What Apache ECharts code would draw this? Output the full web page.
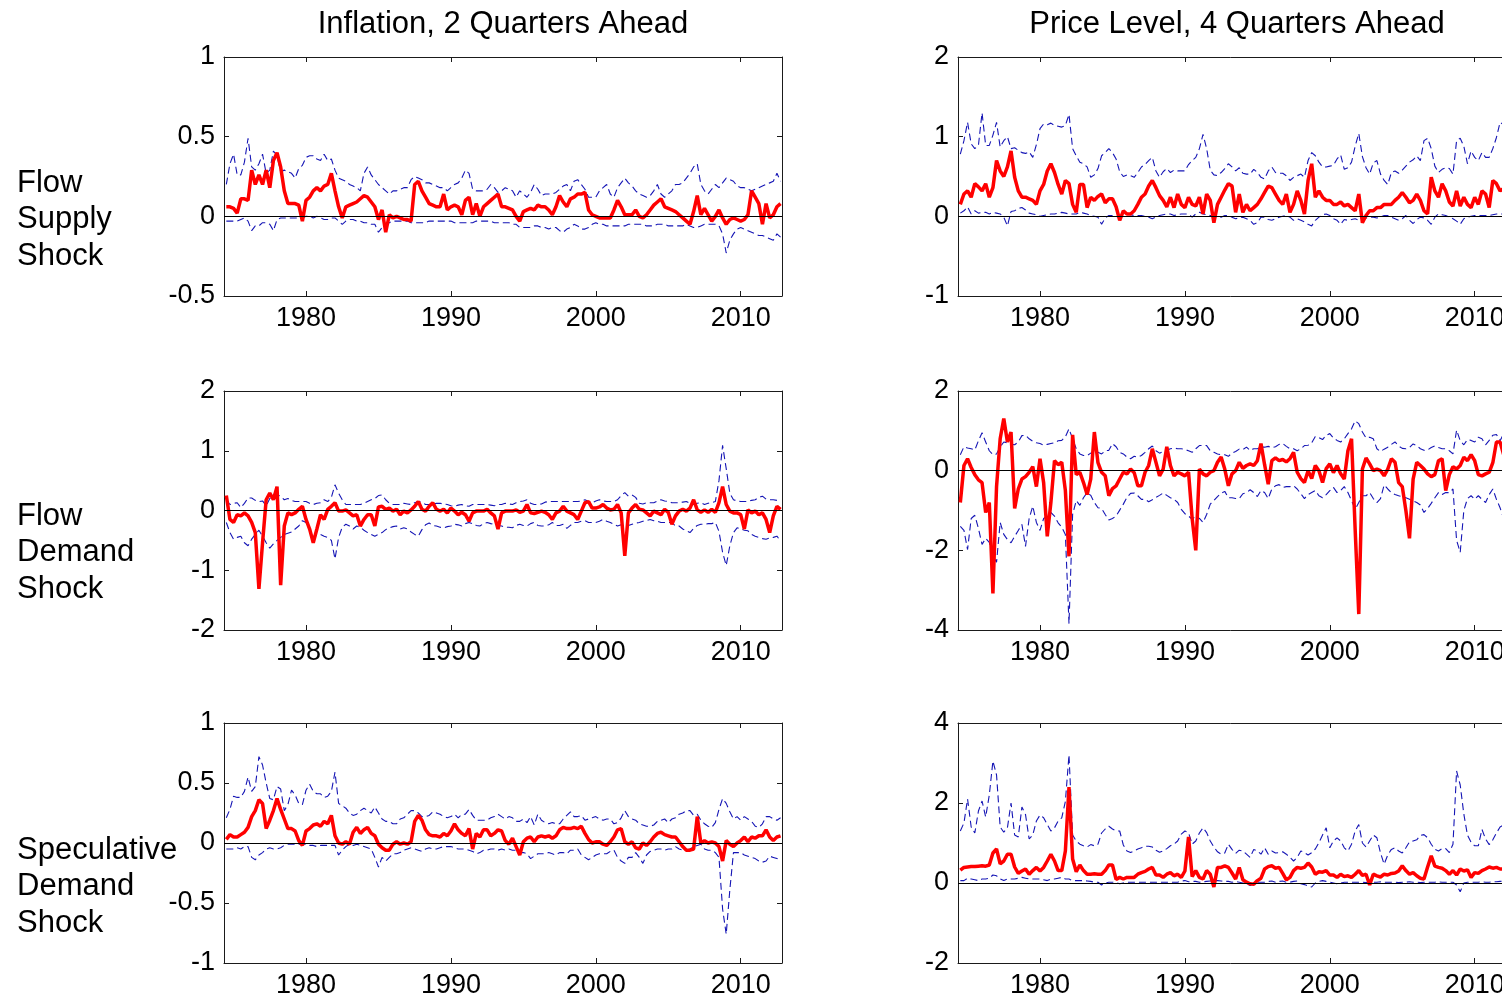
<!DOCTYPE html>
<html>
<head>
<meta charset="utf-8">
<script src="https://cdn.jsdelivr.net/npm/echarts@6/dist/echarts.min.js"></script>
<style>html,body{margin:0;padding:0;background:#fff}#c{width:1502px;height:998px}</style>
</head>
<body>
<div id="c"></div>
<script>
// ---- time index (quarterly) and tick labels ----
const years = Array.from({length: 154}, (_, i) => 1974.5 + 0.25 * i);
const xTicks = [1980, 1990, 2000, 2010];
const colTitles = ['Inflation, 2 Quarters Ahead', 'Price Level, 4 Quarters Ahead'];
const rowLabels = ['Flow\nSupply\nShock', 'Flow\nDemand\nShock', 'Speculative\nDemand\nShock'];

// ---- Inflation, flow supply shock ----
const infSupplyMed = [0.06,0.06,0.05,0.02,0.11,0.11,0.10,0.29,0.20,0.26, 0.20,0.29,0.18,0.35,0.40,0.31,0.16,0.08,0.08,0.08,
 0.07,-0.03,0.10,0.12,0.16,0.18,0.16,0.19,0.20,0.27, 0.16,0.06,-0.01,0.06,0.07,0.08,0.09,0.11,0.13,0.12,
 0.09,0.06,-0.02,0.04,-0.10,0.01,-0.01,0.00,-0.01,-0.02, -0.02,-0.03,0.20,0.22,0.16,0.12,0.08,0.07,0.06,0.06,
 0.14,0.04,0.06,0.07,0.06,0.01,0.10,0.12,0.01,0.08, 0.00,0.06,0.08,0.10,0.12,0.14,0.06,0.06,0.05,0.04,
 0.00,-0.03,0.03,0.04,0.05,0.04,0.07,0.06,0.06,0.04, 0.01,0.06,0.13,0.09,0.06,0.11,0.12,0.14,0.14,0.15,
 0.04,0.01,0.00,-0.01,-0.01,-0.01,-0.01,0.04,0.10,0.06, 0.01,0.01,0.01,0.04,0.00,-0.01,0.01,0.04,0.07,0.09,
 0.11,0.06,0.05,0.04,0.03,0.01,-0.01,-0.03,-0.05,0.03, 0.13,0.01,0.05,0.01,-0.03,0.00,0.04,-0.01,-0.05,-0.02,
 -0.01,-0.02,-0.03,-0.02,0.01,0.16,0.12,0.08,-0.05,0.08, -0.01,0.01,0.06,0.08];
const infSupplyUp = [0.20,0.33,0.39,0.26,0.26,0.34,0.49,0.31,0.29,0.33, 0.39,0.27,0.29,0.41,0.38,0.28,0.29,0.28,0.27,0.24,
 0.30,0.32,0.37,0.38,0.38,0.36,0.35,0.39,0.35,0.36, 0.29,0.24,0.23,0.22,0.20,0.19,0.18,0.16,0.27,0.31,
 0.26,0.23,0.20,0.18,0.16,0.14,0.16,0.16,0.17,0.18, 0.18,0.23,0.25,0.24,0.23,0.21,0.21,0.20,0.19,0.18,
 0.18,0.16,0.18,0.20,0.21,0.24,0.29,0.27,0.17,0.16, 0.16,0.16,0.17,0.20,0.18,0.15,0.16,0.18,0.17,0.16,
 0.12,0.16,0.14,0.12,0.15,0.20,0.17,0.13,0.14,0.14, 0.14,0.15,0.17,0.19,0.20,0.16,0.22,0.23,0.20,0.17,
 0.12,0.12,0.12,0.16,0.18,0.20,0.14,0.12,0.18,0.21, 0.24,0.21,0.19,0.16,0.14,0.13,0.12,0.13,0.16,0.20,
 0.14,0.12,0.14,0.16,0.20,0.20,0.21,0.24,0.27,0.31, 0.33,0.20,0.16,0.14,0.17,0.20,0.18,0.21,0.24,0.23,
 0.22,0.19,0.18,0.18,0.17,0.16,0.17,0.18,0.19,0.20, 0.21,0.22,0.27,0.22];
const infSupplyLo = [-0.03,-0.03,-0.03,-0.03,-0.02,-0.01,-0.03,-0.09,-0.06,-0.06, -0.04,-0.04,-0.05,-0.09,-0.02,-0.01,-0.01,-0.01,-0.01,-0.01,
 -0.01,-0.01,0.00,0.00,-0.01,0.00,-0.01,-0.02,-0.02,-0.01, -0.01,-0.03,-0.05,-0.03,-0.02,-0.02,-0.03,-0.03,-0.04,-0.04,
 -0.05,-0.05,-0.10,-0.07,-0.05,-0.04,-0.03,-0.03,-0.03,-0.03, -0.03,-0.04,-0.04,-0.04,-0.04,-0.04,-0.03,-0.03,-0.03,-0.03,
 -0.03,-0.03,-0.03,-0.04,-0.04,-0.04,-0.04,-0.04,-0.04,-0.03, -0.03,-0.03,-0.03,-0.03,-0.04,-0.04,-0.04,-0.04,-0.04,-0.05,
 -0.05,-0.07,-0.07,-0.07,-0.07,-0.06,-0.06,-0.07,-0.07,-0.08, -0.07,-0.07,-0.09,-0.10,-0.08,-0.07,-0.05,-0.06,-0.08,-0.08,
 -0.07,-0.05,-0.04,-0.05,-0.05,-0.06,-0.06,-0.06,-0.06,-0.06, -0.06,-0.05,-0.05,-0.05,-0.05,-0.05,-0.06,-0.06,-0.06,-0.05,
 -0.05,-0.05,-0.06,-0.06,-0.06,-0.06,-0.06,-0.05,-0.06,-0.07, -0.07,-0.06,-0.05,-0.05,-0.05,-0.05,-0.06,-0.11,-0.23,-0.15,
 -0.11,-0.08,-0.07,-0.08,-0.09,-0.10,-0.11,-0.12,-0.12,-0.13, -0.14,-0.15,-0.11,-0.13];

// ---- Inflation, flow demand shock ----
const infDemandMed = [0.25,-0.15,-0.20,-0.07,-0.09,-0.04,-0.09,-0.20,-0.37,-1.31, -0.54,0.18,0.29,0.18,0.40,-1.25,-0.26,-0.04,-0.07,-0.04,
 0.02,0.07,-0.15,-0.31,-0.54,-0.31,-0.07,-0.15,0.02,0.07, 0.13,-0.01,-0.01,0.01,-0.04,-0.09,-0.07,-0.26,-0.15,-0.07,
 -0.07,-0.26,0.06,0.07,0.02,0.04,-0.01,0.02,-0.07,-0.01, -0.04,0.01,0.07,0.15,0.02,-0.01,0.07,0.13,0.02,-0.01,
 0.02,-0.04,0.04,-0.01,-0.07,-0.03,-0.07,-0.18,-0.04,-0.01, -0.01,-0.01,0.02,-0.04,-0.09,-0.31,-0.04,-0.01,-0.01,-0.01,
 0.01,-0.03,-0.01,0.10,-0.04,-0.05,-0.03,-0.01,-0.03,-0.07, -0.15,-0.04,-0.01,0.07,-0.01,-0.04,-0.07,-0.15,-0.01,0.13,
 0.15,0.04,0.04,0.06,0.10,0.04,0.01,0.02,0.10,-0.04, -0.76,-0.04,0.04,0.10,0.02,0.01,-0.04,-0.09,-0.01,-0.04,
 -0.07,0.02,-0.03,-0.23,-0.09,-0.01,0.02,-0.01,0.04,0.18, 0.01,-0.03,0.01,-0.03,0.02,-0.03,0.13,0.40,0.10,-0.01,
 -0.04,-0.04,-0.07,-0.31,0.01,-0.04,-0.01,-0.07,-0.04,-0.15, -0.37,-0.09,0.07,0.02];
const infDemandUp = [0.18,0.10,0.12,0.13,0.05,0.12,0.21,0.21,0.17,0.15, 0.16,0.08,0.20,0.27,0.26,0.24,0.18,0.20,0.17,0.15,
 0.15,0.15,0.15,0.12,0.10,0.12,0.13,0.18,0.15,0.22, 0.43,0.29,0.18,0.10,0.10,0.10,0.10,0.10,0.12,0.15,
 0.18,0.20,0.25,0.26,0.18,0.12,0.10,0.10,0.10,0.12, 0.11,0.10,0.13,0.15,0.14,0.10,0.10,0.10,0.12,0.12,
 0.11,0.10,0.08,0.07,0.09,0.10,0.08,0.07,0.10,0.10, 0.10,0.10,0.10,0.09,0.08,0.10,0.10,0.12,0.11,0.10,
 0.13,0.15,0.16,0.18,0.12,0.10,0.10,0.11,0.14,0.15, 0.15,0.15,0.15,0.15,0.15,0.15,0.15,0.15,0.16,0.18,
 0.15,0.13,0.16,0.18,0.16,0.15,0.15,0.15,0.18,0.25, 0.30,0.24,0.26,0.22,0.12,0.11,0.13,0.13,0.13,0.16,
 0.18,0.16,0.15,0.13,0.13,0.13,0.14,0.15,0.12,0.10, 0.12,0.13,0.10,0.12,0.13,0.15,0.50,1.09,0.70,0.29,
 0.18,0.16,0.15,0.15,0.15,0.17,0.18,0.22,0.24,0.19, 0.18,0.18,0.17,0.15];
const infDemandLo = [-0.20,-0.37,-0.48,-0.45,-0.43,-0.54,-0.59,-0.48,-0.40,-0.33, -0.43,-0.54,-0.63,-0.56,-0.50,-0.45,-0.40,-0.38,-0.36,-0.31,
 -0.26,-0.17,-0.20,-0.30,-0.48,-0.40,-0.40,-0.43,-0.45,-0.50, -0.81,-0.45,-0.28,-0.23,-0.26,-0.31,-0.26,-0.28,-0.33,-0.37,
 -0.40,-0.43,-0.40,-0.37,-0.32,-0.29,-0.27,-0.26,-0.31,-0.29, -0.31,-0.36,-0.40,-0.43,-0.32,-0.24,-0.21,-0.25,-0.26,-0.28,
 -0.29,-0.27,-0.26,-0.23,-0.24,-0.26,-0.22,-0.20,-0.22,-0.25, -0.26,-0.22,-0.20,-0.22,-0.23,-0.25,-0.26,-0.28,-0.28,-0.29,
 -0.25,-0.23,-0.25,-0.26,-0.22,-0.20,-0.25,-0.26,-0.26,-0.24, -0.20,-0.25,-0.25,-0.23,-0.30,-0.25,-0.20,-0.20,-0.18,-0.17,
 -0.20,-0.20,-0.20,-0.18,-0.15,-0.18,-0.20,-0.23,-0.26,-0.24, -0.26,-0.25,-0.23,-0.21,-0.20,-0.18,-0.17,-0.15,-0.17,-0.18,
 -0.20,-0.20,-0.20,-0.20,-0.26,-0.26,-0.31,-0.34,-0.37,-0.30, -0.25,-0.23,-0.23,-0.22,-0.22,-0.20,-0.35,-0.70,-0.92,-0.59,
 -0.37,-0.29,-0.31,-0.33,-0.34,-0.40,-0.43,-0.45,-0.47,-0.48, -0.46,-0.45,-0.43,-0.51];

// ---- Inflation, speculative demand shock ----
const infSpecMed = [0.03,0.07,0.05,0.05,0.07,0.09,0.13,0.22,0.27,0.36, 0.33,0.12,0.19,0.27,0.37,0.28,0.20,0.12,0.12,0.10,
 0.02,-0.02,0.10,0.12,0.15,0.16,0.14,0.18,0.16,0.23, 0.06,0.00,-0.01,0.01,-0.01,0.09,0.13,0.08,0.11,0.13,
 0.08,0.06,-0.01,-0.04,-0.06,-0.06,-0.01,0.01,-0.01,0.00, -0.01,0.01,0.18,0.23,0.19,0.11,0.07,0.06,0.06,0.05,
 0.08,0.06,0.10,0.16,0.11,0.08,0.06,0.12,-0.05,0.08, 0.05,0.11,0.11,0.06,0.08,0.11,0.10,0.02,-0.01,0.04,
 -0.03,-0.10,0.01,0.04,0.05,0.01,0.05,0.06,0.05,0.06, 0.04,0.06,0.11,0.13,0.12,0.12,0.13,0.12,0.14,0.08,
 0.03,0.00,0.01,0.01,-0.01,-0.02,0.01,0.05,0.11,0.12, 0.01,-0.01,0.01,-0.04,-0.05,0.00,-0.02,0.01,0.05,0.08,
 0.09,0.07,0.06,0.05,0.05,0.01,-0.03,-0.06,-0.06,-0.05, 0.22,0.00,0.02,0.00,0.01,0.00,-0.03,-0.15,0.02,-0.01,
 -0.03,0.00,0.02,0.05,0.01,0.05,0.04,0.06,0.06,0.11, 0.05,0.02,0.05,0.06];
const infSpecUp = [0.21,0.28,0.39,0.38,0.38,0.43,0.55,0.43,0.47,0.72, 0.65,0.50,0.37,0.36,0.47,0.45,0.27,0.32,0.44,0.40,
 0.33,0.32,0.44,0.49,0.43,0.41,0.41,0.38,0.39,0.43, 0.59,0.33,0.31,0.29,0.25,0.23,0.24,0.27,0.29,0.27,
 0.25,0.30,0.25,0.20,0.18,0.18,0.16,0.16,0.20,0.21, 0.24,0.27,0.27,0.25,0.22,0.22,0.23,0.26,0.25,0.24,
 0.22,0.21,0.22,0.24,0.21,0.24,0.24,0.28,0.23,0.19, 0.19,0.19,0.19,0.21,0.22,0.24,0.22,0.20,0.22,0.21,
 0.18,0.18,0.20,0.17,0.22,0.15,0.24,0.19,0.17,0.16, 0.17,0.16,0.16,0.20,0.23,0.26,0.22,0.22,0.23,0.19,
 0.20,0.21,0.22,0.20,0.19,0.20,0.20,0.16,0.17,0.21, 0.27,0.22,0.20,0.19,0.16,0.15,0.14,0.14,0.15,0.18,
 0.19,0.20,0.17,0.20,0.21,0.24,0.25,0.27,0.27,0.23, 0.24,0.19,0.16,0.14,0.13,0.17,0.28,0.37,0.33,0.26,
 0.20,0.22,0.19,0.22,0.20,0.18,0.14,0.13,0.16,0.22, 0.22,0.20,0.19,0.21];
const infSpecLo = [-0.05,-0.05,-0.05,-0.04,-0.05,-0.03,-0.03,-0.12,-0.14,-0.10, -0.08,-0.05,-0.04,-0.05,-0.05,-0.04,-0.02,-0.01,-0.01,-0.01,
 -0.01,-0.01,-0.01,-0.02,-0.02,-0.03,-0.02,-0.02,-0.02,-0.02, -0.02,-0.10,-0.06,-0.03,-0.01,-0.02,-0.01,-0.02,-0.03,-0.04,
 -0.05,-0.12,-0.20,-0.12,-0.15,-0.12,-0.09,-0.09,-0.08,-0.06, -0.05,-0.04,-0.05,-0.06,-0.07,-0.05,-0.04,-0.05,-0.05,-0.04,
 -0.03,-0.03,-0.03,-0.04,-0.05,-0.05,-0.05,-0.06,-0.07,-0.09, -0.08,-0.06,-0.06,-0.05,-0.05,-0.06,-0.05,-0.06,-0.05,-0.06,
 -0.06,-0.08,-0.08,-0.09,-0.13,-0.11,-0.09,-0.09,-0.09,-0.08, -0.09,-0.10,-0.08,-0.08,-0.09,-0.06,-0.06,-0.05,-0.10,-0.12,
 -0.14,-0.12,-0.10,-0.09,-0.09,-0.09,-0.07,-0.06,-0.12,-0.15, -0.17,-0.12,-0.12,-0.08,-0.12,-0.17,-0.10,-0.07,-0.06,-0.05,
 -0.05,-0.06,-0.05,-0.05,-0.03,-0.05,-0.06,-0.06,-0.05,-0.03, -0.02,-0.01,-0.05,-0.06,-0.06,-0.08,-0.12,-0.55,-0.76,-0.39,
 -0.08,-0.08,-0.08,-0.10,-0.11,-0.12,-0.13,-0.15,-0.16,-0.15, -0.11,-0.12,-0.13,-0.14];

// ---- Price level, flow supply shock ----
const plSupplyMed = [0.15,0.28,0.32,0.24,0.41,0.37,0.32,0.41,0.24,0.36, 0.70,0.57,0.50,0.62,0.82,0.49,0.32,0.24,0.24,0.22,
 0.20,0.15,0.32,0.40,0.57,0.66,0.55,0.40,0.28,0.45, 0.41,0.15,0.05,0.40,0.40,0.11,0.24,0.20,0.25,0.28,
 0.17,0.22,0.22,0.12,-0.05,0.07,0.03,0.03,0.07,0.15, 0.24,0.28,0.38,0.45,0.36,0.26,0.20,0.12,0.24,0.11,
 0.28,0.15,0.11,0.24,0.15,0.13,0.24,0.03,0.28,0.20, -0.08,0.15,0.24,0.33,0.41,0.38,0.05,0.28,0.05,0.15,
 0.07,0.11,0.15,0.22,0.30,0.38,0.36,0.28,0.20,0.15, 0.28,0.05,0.15,0.32,0.20,0.03,0.45,0.66,0.24,0.32,
 0.24,0.20,0.20,0.15,0.15,0.18,0.13,0.15,0.11,0.07, 0.28,-0.08,0.01,0.07,0.07,0.11,0.11,0.15,0.15,0.15,
 0.20,0.24,0.30,0.24,0.17,0.20,0.28,0.20,0.07,0.03, 0.49,0.32,0.24,0.41,0.32,0.18,0.13,0.32,0.13,0.24,
 0.15,0.11,0.24,0.15,0.32,0.28,0.11,0.45,0.41,0.32, 0.35];
const plSupplyUp = [0.78,0.95,1.18,0.91,0.85,0.89,1.30,0.89,0.89,1.02, 1.18,0.87,0.95,1.00,0.85,0.86,0.83,0.80,0.79,0.81,
 0.74,0.90,1.10,1.16,1.15,1.17,1.14,1.13,1.12,1.14, 1.28,0.85,0.76,0.68,0.66,0.62,0.49,0.52,0.60,0.76,
 0.80,0.85,0.80,0.72,0.56,0.50,0.52,0.51,0.49,0.55, 0.62,0.65,0.70,0.74,0.57,0.49,0.56,0.60,0.55,0.58,
 0.57,0.57,0.57,0.65,0.70,0.74,0.85,1.03,0.85,0.58, 0.52,0.51,0.55,0.60,0.66,0.62,0.57,0.61,0.54,0.53,
 0.53,0.59,0.55,0.49,0.47,0.57,0.62,0.55,0.54,0.54, 0.51,0.45,0.49,0.51,0.53,0.49,0.70,0.80,0.76,0.68,
 0.62,0.62,0.63,0.64,0.72,0.77,0.59,0.61,0.68,0.88, 1.04,0.75,0.61,0.53,0.67,0.70,0.53,0.45,0.40,0.55,
 0.57,0.54,0.58,0.63,0.68,0.71,0.76,0.70,0.95,0.98, 0.85,0.63,0.55,0.59,0.61,0.60,0.53,0.95,0.98,0.88,
 0.66,0.82,0.74,0.70,0.80,0.74,0.74,0.85,0.99,1.18, 1.15];
const plSupplyLo = [0.04,0.07,0.12,0.03,0.07,0.04,0.05,0.05,0.03,0.05, 0.04,0.03,-0.01,-0.12,0.06,0.07,0.10,0.11,0.08,0.04,
 0.03,0.02,0.00,0.01,0.02,0.03,0.03,0.04,0.05,0.04, 0.03,0.03,0.03,0.05,0.04,0.03,0.01,0.00,-0.01,-0.10,
 -0.02,0.01,0.01,0.00,-0.01,0.01,0.03,0.02,0.01,0.01, 0.01,0.00,-0.01,-0.03,-0.01,0.01,0.02,0.03,0.03,0.01,
 0.02,0.03,0.03,0.03,-0.01,0.03,0.05,0.03,0.02,0.01, 0.00,-0.01,-0.01,0.01,0.01,-0.01,-0.03,-0.02,-0.01,-0.03,
 -0.05,-0.10,-0.08,-0.01,-0.01,-0.04,-0.05,-0.03,-0.01,0.00, 0.01,-0.01,-0.05,-0.03,-0.05,-0.07,-0.10,-0.12,-0.05,-0.01,
 0.02,0.03,0.01,-0.03,-0.05,-0.10,-0.04,-0.05,-0.04,-0.03, -0.05,-0.01,-0.02,-0.01,-0.01,-0.02,-0.01,0.01,0.01,-0.01,
 -0.03,-0.05,-0.03,0.01,-0.05,-0.09,-0.04,-0.01,-0.02,-0.05, -0.10,-0.01,0.03,0.02,0.01,-0.01,-0.03,-0.06,-0.10,-0.03,
 -0.01,0.00,0.01,0.01,0.01,0.01,0.01,0.02,0.03,0.03, 0.03];

// ---- Price level, flow demand shock ----
const plDemandMed = [-0.80,0.13,0.30,0.08,-0.10,-0.23,-0.30,-1.05,-0.80,-3.08, -0.40,0.80,1.31,0.72,0.97,-0.95,-0.46,-0.21,-0.15,-0.04,
 0.10,-0.40,0.30,-0.30,-1.65,-0.80,0.25,0.15,0.21,-0.50, -2.15,0.90,-0.10,-0.04,-0.30,-0.60,-0.21,0.97,0.20,-0.04,
 -0.13,-0.63,-0.45,-0.38,-0.21,-0.04,-0.08,0.04,-0.05,-0.38, -0.38,-0.04,0.13,0.55,0.21,-0.13,0.04,0.60,0.13,-0.13,
 -0.04,-0.08,-0.13,-0.04,-1.20,-2.00,0.04,-0.08,-0.13,-0.04, 0.00,0.21,0.34,0.04,-0.38,-0.08,0.00,0.21,0.06,0.13,
 0.17,0.13,0.25,0.68,0.15,-0.34,0.25,0.32,0.25,0.28, 0.22,0.30,0.46,-0.04,-0.20,-0.30,0.00,-0.20,0.13,0.00,
 -0.30,0.05,0.17,-0.05,0.13,-0.08,-0.21,0.50,0.80,-1.48, -3.60,0.04,0.32,0.17,0.00,0.04,0.00,-0.13,0.04,0.30,
 0.21,-0.30,-0.40,-1.00,-1.70,-0.21,0.21,0.13,0.04,-0.08, -0.15,-0.10,0.25,0.30,-0.50,-0.10,0.10,0.04,0.13,0.34,
 0.25,0.40,0.25,-0.10,-0.13,-0.08,-0.04,0.20,0.72,0.72, 0.40];
const plDemandUp = [0.40,0.60,0.57,0.55,0.52,0.75,0.95,0.72,0.50,0.40, 0.42,0.60,0.72,0.70,0.66,0.65,0.72,0.88,0.89,0.80,
 0.74,0.70,0.68,0.64,0.66,0.68,0.70,0.75,0.76,0.85, 1.05,0.80,0.55,0.42,0.38,0.38,0.44,0.50,0.46,0.42,
 0.50,0.51,0.68,0.60,0.46,0.42,0.34,0.30,0.36,0.34, 0.38,0.46,0.55,0.62,0.50,0.44,0.48,0.51,0.55,0.57,
 0.55,0.55,0.53,0.50,0.46,0.55,0.63,0.63,0.63,0.50, 0.46,0.42,0.40,0.40,0.36,0.44,0.48,0.54,0.53,0.59,
 0.51,0.55,0.55,0.59,0.59,0.61,0.58,0.60,0.66,0.68, 0.61,0.55,0.55,0.50,0.55,0.63,0.64,0.70,0.86,0.83,
 0.78,0.89,0.93,0.82,0.76,0.72,0.80,0.93,1.05,1.25, 1.18,0.97,0.82,0.84,0.80,0.55,0.48,0.54,0.59,0.66,
 0.72,0.62,0.56,0.55,0.58,0.67,0.63,0.55,0.51,0.52, 0.58,0.62,0.58,0.55,0.55,0.50,0.42,1.02,0.75,0.65,
 0.78,0.76,0.72,0.84,0.80,0.65,0.76,0.89,0.91,0.75, 0.93];
const plDemandLo = [-1.40,-1.50,-1.98,-1.20,-1.12,-1.45,-1.85,-1.70,-1.80,-2.15, -2.30,-1.30,-1.60,-1.73,-1.81,-1.65,-1.50,-1.35,-1.90,-1.20,
 -0.89,-1.30,-1.50,-1.20,-1.14,-1.05,-1.14,-1.31,-1.42,-1.60, -3.84,-1.10,-0.75,-0.87,-0.68,-0.55,-0.62,-0.80,-0.93,-0.95,
 -1.10,-1.24,-1.20,-1.14,-0.99,-0.84,-0.67,-0.57,-0.56,-0.63, -0.72,-0.72,-0.78,-0.73,-0.67,-0.62,-0.56,-0.62,-0.68,-0.72,
 -0.80,-0.97,-1.08,-1.14,-1.22,-1.14,-1.20,-1.30,-1.10,-0.84, -0.75,-0.65,-0.57,-0.52,-0.68,-0.68,-0.70,-0.70,-0.58,-0.55,
 -0.48,-0.55,-0.65,-0.50,-0.55,-0.70,-0.46,-0.38,-0.35,-0.42, -0.40,-0.40,-0.38,-0.46,-0.58,-0.70,-0.60,-0.55,-0.50,-0.63,
 -0.68,-0.60,-0.50,-0.42,-0.55,-0.50,-0.40,-0.55,-0.75,-0.97, -0.80,-0.63,-0.63,-0.55,-0.70,-0.80,-0.70,-0.36,-0.46,-0.55,
 -0.60,-0.63,-0.65,-0.68,-0.72,-0.76,-0.80,-0.86,-1.05,-0.95, -0.82,-0.68,-0.55,-0.60,-0.55,-0.55,-0.46,-1.75,-2.05,-1.00,
 -0.70,-0.63,-0.72,-0.63,-0.72,-0.80,-0.60,-0.46,-0.72,-0.93, -1.20];

// ---- Price level, speculative demand shock ----
const plSpecMed = [0.32,0.39,0.40,0.41,0.41,0.42,0.43,0.42,0.45,0.75, 0.85,0.48,0.55,0.72,0.72,0.40,0.24,0.30,0.35,0.22,
 0.31,0.39,0.30,0.39,0.55,0.72,0.55,0.31,0.31,0.80, 2.40,0.60,0.28,0.45,0.31,0.22,0.22,0.23,0.22,0.22,
 0.31,0.45,0.45,0.09,0.14,0.10,0.14,0.14,0.14,0.22, 0.26,0.29,0.35,0.39,0.20,0.20,0.14,0.22,0.26,0.18,
 0.22,0.14,0.30,1.15,0.16,0.31,0.14,0.10,0.31,0.22, -0.10,0.39,0.39,0.43,0.39,0.25,0.10,0.39,0.08,0.02,
 -0.02,-0.03,0.06,0.12,0.35,0.41,0.43,0.37,0.39,0.24, 0.08,0.14,0.31,0.39,0.37,0.39,0.50,0.40,0.22,0.28,
 0.27,0.31,0.20,0.20,0.14,0.22,0.16,0.18,0.14,0.22, 0.31,0.19,0.22,-0.05,0.22,0.18,0.15,0.22,0.20,0.24,
 0.25,0.30,0.43,0.31,0.22,0.26,0.18,0.12,0.10,0.40, 0.68,0.42,0.39,0.37,0.31,0.22,0.31,0.20,0.35,0.30,
 0.33,0.14,0.26,0.24,0.31,0.35,0.40,0.37,0.39,0.35, 0.35];
const plSpecUp = [1.30,1.50,2.10,1.40,1.25,1.80,2.05,1.65,2.20,3.05, 2.70,1.40,1.27,1.38,2.00,1.20,1.15,1.90,1.71,1.10,
 1.20,1.55,1.70,1.63,1.46,1.30,1.38,1.55,1.63,2.04, 3.20,1.20,1.05,0.97,0.93,0.90,0.96,0.93,0.97,1.25,
 1.35,1.42,1.35,1.30,1.30,0.95,0.80,0.76,0.80,0.85, 0.88,0.92,0.92,0.90,0.82,0.77,0.80,0.86,0.93,0.97,
 1.05,1.22,1.30,1.26,0.97,1.05,1.25,1.38,1.26,1.05, 0.90,0.78,0.72,0.75,0.97,0.84,0.74,0.82,0.80,0.72,
 0.64,0.84,0.80,0.72,0.88,0.72,0.80,0.75,0.76,0.78, 0.72,0.64,0.55,0.64,0.80,0.76,0.70,0.76,0.85,1.01,
 1.20,1.38,0.88,1.05,1.13,1.05,0.88,0.80,0.97,1.30, 1.46,1.00,0.90,1.05,1.20,1.13,0.75,0.47,0.70,0.84,
 0.88,0.80,0.75,0.88,1.03,1.05,1.08,1.19,1.21,1.13, 0.97,0.84,0.80,0.86,0.86,0.76,0.97,2.80,2.45,1.72,
 1.20,1.02,0.93,0.93,1.34,1.10,0.96,1.08,1.25,1.40, 1.45];
const plSpecLo = [0.06,0.06,0.12,0.10,0.08,0.06,0.10,0.10,0.12,0.20, 0.18,0.10,0.06,0.10,0.10,0.10,0.12,0.14,0.12,0.10,
 0.10,0.10,0.10,0.08,0.06,0.10,0.10,0.12,0.14,0.10, 0.10,0.06,0.06,0.06,0.06,0.05,0.04,0.02,0.02,-0.05,
 0.00,0.02,0.02,0.01,-0.02,0.00,0.02,0.02,0.02,0.02, 0.02,0.02,0.02,0.02,0.02,0.02,0.02,0.02,0.02,0.02,
 0.02,0.05,0.06,0.03,0.04,0.04,0.02,0.03,0.04,0.05, 0.06,0.06,0.05,0.04,0.04,0.02,0.04,0.02,0.00,-0.02,
 -0.06,-0.02,0.02,0.02,0.02,0.04,0.05,0.02,0.04,0.05, 0.02,0.02,0.04,0.05,-0.02,-0.04,-0.07,-0.10,0.00,0.04,
 0.06,0.04,0.02,0.00,-0.02,0.00,0.02,0.02,0.02,0.02, 0.02,0.02,0.01,0.02,0.02,0.02,0.03,0.02,0.02,0.02,
 0.02,0.01,0.02,0.02,0.03,0.02,0.02,0.01,0.02,0.02, 0.02,0.02,0.03,0.02,0.02,0.02,0.02,-0.05,-0.22,0.00,
 0.02,0.02,0.02,0.02,0.03,0.02,0.02,0.03,0.03,0.04, 0.05];

// ---- y-axis ranges per panel ----
const yRanges = [
  [-0.5, 1, 0.5], [-1, 2, 1],
  [-2, 2, 1],     [-4, 2, 2],
  [-1, 1, 0.5],   [-2, 4, 2]
];
const panelData = [
  [infSupplyMed, infSupplyUp, infSupplyLo], [plSupplyMed, plSupplyUp, plSupplyLo],
  [infDemandMed, infDemandUp, infDemandLo], [plDemandMed, plDemandUp, plDemandLo],
  [infSpecMed, infSpecUp, infSpecLo],       [plSpecMed, plSpecUp, plSpecLo]
];

const FONT = '"Liberation Sans", Arial, Helvetica, sans-serif';
const colLeft = [224, 958];
const rowTop = [57, 391, 723];
const gw = 558, gh = 239;
const frame = {color: '#1a1a1a', width: 1};

const pts = vals => vals.map((v, i) => [years[i], v]);

const grids = [], xAxes = [], yAxes = [], series = [];
for (let k = 0; k < 6; k++) {
  const r = Math.floor(k / 2), c = k % 2;
  grids.push({left: colLeft[c], top: rowTop[r], width: gw, height: r === 2 ? 240 : gh,
              containLabel: false, outerBoundsMode: 'none'});
  const xb = {gridIndex: k, type: 'value', min: 1974.34, max: 2012.85, position: 'bottom',
    axisLine: {show: true, onZero: false, lineStyle: frame},
    axisTick: {show: true, inside: true, length: 5, customValues: xTicks, lineStyle: frame},
    axisLabel: {show: true, customValues: xTicks, fontSize: 27, fontFamily: FONT, color: '#000', margin: 9,
                formatter: v => String(Math.round(v))},
    splitLine: {show: false}};
  const xt = Object.assign({}, xb, {position: 'top', axisLabel: {show: false}});
  xAxes.push(xb, xt);
  const [mn, mx, st] = yRanges[k];
  const yl = {gridIndex: k, type: 'value', min: mn, max: mx, interval: st, position: 'left',
    axisLine: {show: true, onZero: false, lineStyle: frame},
    axisTick: {show: true, inside: true, length: 5, lineStyle: frame},
    axisLabel: {show: true, fontSize: 27, fontFamily: FONT, color: '#000', margin: 9,
                padding: [6, 0, 0, 0], formatter: v => String(v)},
    splitLine: {show: false}};
  const yr = Object.assign({}, yl, {position: 'right', axisLabel: {show: false}});
  yAxes.push(yl, yr);
  const [med, up, lo] = panelData[k];
  const band = (vals) => ({type: 'line', xAxisIndex: 2 * k, yAxisIndex: 2 * k, data: pts(vals),
    symbol: 'none', showSymbol: false, silent: true, z: 2,
    lineStyle: {color: '#1515b5', width: 1.1, type: [7, 4]}});
  series.push(band(up), band(lo));
  series.push({type: 'line', xAxisIndex: 2 * k, yAxisIndex: 2 * k, data: pts(med),
    symbol: 'none', showSymbol: false, silent: true, z: 3,
    lineStyle: {color: '#ff0000', width: 3.5},
    markLine: {silent: true, symbol: 'none', animation: false, label: {show: false},
      lineStyle: {color: '#000', width: 1.2, type: 'solid'}, data: [{yAxis: 0}]}});
}

const graphics = [];
colTitles.forEach((t, c) => {
  graphics.push({type: 'text', x: colLeft[c] + gw / 2, y: 24,
    style: {text: t, fontSize: 31, fontFamily: FONT, fill: '#000',
            align: 'center', verticalAlign: 'middle', textAlign: 'center', textVerticalAlign: 'middle'}});
});
const labelTops = [183, 516, 850];
rowLabels.forEach((t, r) => {
  graphics.push({type: 'text', x: 17, y: labelTops[r] - 18.25,
    style: {text: t, fontSize: 31, lineHeight: 36.5, fontFamily: FONT, fill: '#000',
            align: 'left', verticalAlign: 'top', textAlign: 'left', textVerticalAlign: 'top'}});
});

const chart = echarts.init(document.getElementById('c'), null, {renderer: 'canvas'});
chart.setOption({
  animation: false,
  backgroundColor: '#ffffff',
  grid: grids, xAxis: xAxes, yAxis: yAxes, series: series,
  graphic: graphics
});
</script>
</body>
</html>
